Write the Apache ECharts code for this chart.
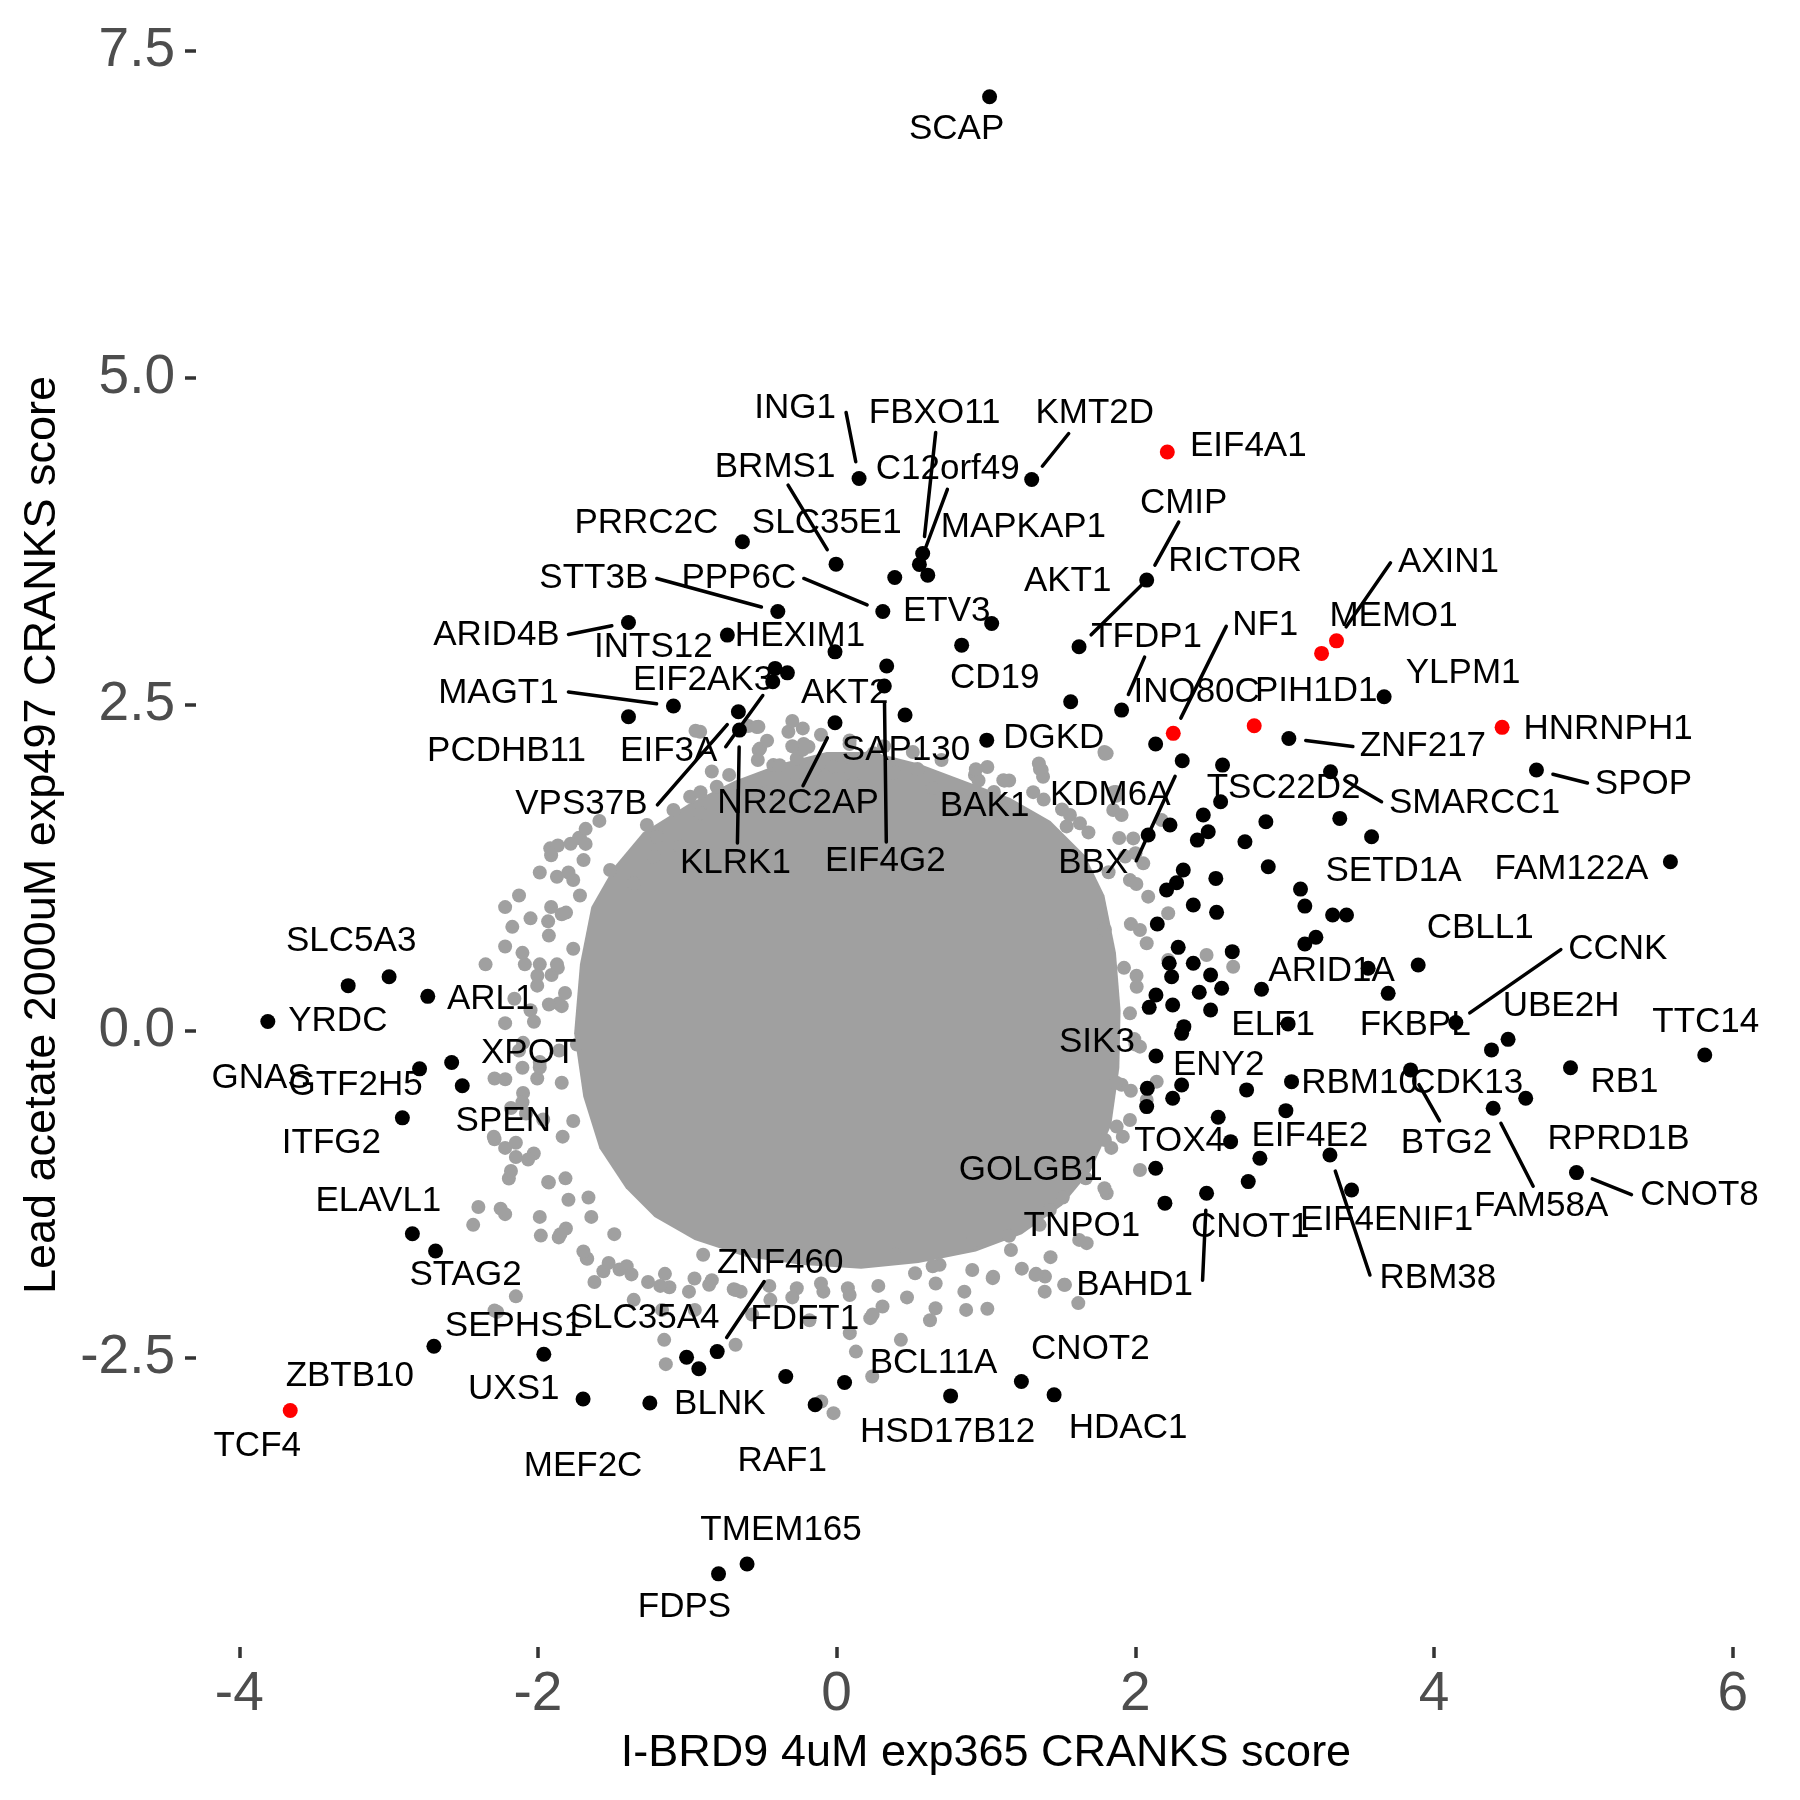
<!DOCTYPE html>
<html><head><meta charset="utf-8">
<script src="https://cdn.jsdelivr.net/npm/echarts@6/dist/echarts.min.js"></script>
<style>html,body{margin:0;padding:0;background:#fff}#c{width:1800px;height:1800px}</style>
</head><body><div id="c"></div>
<script>
// ---------------- DATA ----------------
const xTicks = [-4, -2, 0, 2, 4, 6];
const yTicks = [-2.5, 0, 2.5, 5, 7.5];

const hitGenes = ['SCAP','ING1','KMT2D','EIF4A1','PRRC2C','FBXO11','MAPKAP1','BRMS1','C12orf49','SLC35E1',
'CMIP','STT3B','PPP6C','ETV3','ARID4B','INTS12','HEXIM1','CD19','RICTOR','AKT2',
'EIF2AK3','','EIF3A','EIF4G2','MAGT1','PCDHB11','VPS37B','KLRK1','NR2C2AP','SAP130',
'DGKD','AKT1','TFDP1','NF1','PIH1D1','AXIN1','MEMO1','ZNF217','INO80C','YLPM1',
'HNRNPH1','BBX','TSC22D2','SMARCC1','SPOP','BAK1','','','','',
'','','','KDM6A','SETD1A','FAM122A','','','','',
'','','','','','','','','','',
'','','','','','','','CBLL1','','ARID1A',
'','','FKBPL','','','','ELF1','CCNK','','',
'SIK3','UBE2H','RPRD1B','BTG2','ENY2','','RBM10','','','',
'CDK13','FAM58A','EIF4E2','','TOX4','RBM38','','GOLGB1','CNOT1','EIF4ENIF1',
'BAHD1','TNPO1','RB1','TTC14','CNOT8','SLC5A3','GNAS','ARL1','YRDC','GTF2H5',
'XPOT','SPEN','ITFG2','ELAVL1','STAG2','SEPHS1','UXS1','TCF4','MEF2C','BLNK',
'SLC35A4','ZBTB10','ZNF460','FDFT1','BCL11A','RAF1','HSD17B12','CNOT2','HDAC1','TMEM165','FDPS'];

const hitX = [1.024,0.150,1.306,2.214,-0.631,0.576,0.554,-0.004,0.610,0.389,
2.076,-0.394,0.309,1.038,-1.394,-0.732,-0.011,0.837,1.623,0.335,
-0.412,-0.330,-0.428,0.319,-1.093,-1.394,-0.658,-0.651,-0.011,0.458,
1.005,1.567,1.908,2.254,2.796,3.347,3.247,3.028,2.136,3.666,
4.456,2.314,2.584,3.307,4.686,2.571,2.455,2.874,3.369,2.232,
2.488,2.415,2.734,2.086,3.582,5.583,2.890,2.321,2.539,3.106,
2.276,2.209,3.135,2.388,2.544,3.321,3.414,2.147,3.209,3.135,
2.287,2.649,2.388,2.227,2.504,2.243,3.559,3.894,2.578,2.845,
2.428,2.138,3.693,2.250,2.093,2.504,3.023,4.146,2.325,2.310,
2.138,4.496,4.385,3.843,2.310,2.080,3.046,2.745,2.250,2.076,
4.614,4.396,3.008,2.555,2.638,3.303,2.834,2.136,2.756,3.448,
2.477,2.198,4.914,5.813,4.954,-3.271,-2.997,-2.738,-3.809,-2.793,
-2.578,-2.507,-2.908,-2.841,-2.686,-2.697,-1.961,-3.659,-1.698,-1.251,
-1.005,-0.923,-0.800,-0.341,0.053,-0.144,0.763,1.237,1.456,-0.600,-0.791];

const hitY = [7.151,4.229,4.221,4.432,3.744,3.655,3.571,3.573,3.489,3.471,
3.451,3.211,3.211,3.119,3.127,3.030,2.902,2.953,2.941,2.793,
2.775,2.741,2.673,2.640,2.487,2.405,2.443,2.303,2.359,2.418,
2.226,2.520,2.456,2.278,2.336,2.986,2.890,2.239,2.196,2.558,
2.324,2.068,2.035,1.984,1.997,1.754,1.653,1.601,1.627,1.576,
1.525,1.461,1.448,1.500,1.487,1.295,1.257,1.232,1.168,1.086,
1.135,1.079,0.956,0.964,0.908,0.888,0.888,0.819,0.717,0.666,
0.640,0.607,0.518,0.518,0.428,0.415,0.480,0.505,0.327,0.319,
0.296,0.275,0.288,0.199,0.181,0.161,0.054,0.064,0.033,-0.018,
-0.191,-0.064,-0.145,-0.298,-0.413,-0.439,-0.388,-0.451,-0.515,-0.579,
-0.515,-0.591,-0.610,-0.660,-0.847,-0.949,-0.974,-1.051,-1.153,-1.217,
-1.242,-1.318,-0.281,-0.184,-1.084,0.347,0.415,0.265,0.073,-0.290,
-0.241,-0.419,-0.665,-1.552,-1.684,-2.413,-2.474,-2.905,-2.817,-2.847,
-2.497,-2.585,-2.454,-2.645,-2.691,-2.861,-2.793,-2.683,-2.785,-4.080,-4.155];

const redGenes = ['EIF4A1','NF1','PIH1D1','AXIN1','MEMO1','HNRNPH1','TCF4'];

// outline of the solid central mass of background genes
const coreOutline = [[-1.719,0.510],[-1.643,0.949],[-1.489,1.257],[-1.297,1.520],[-0.989,1.740],[-0.682,1.916],
[-0.374,2.047],[-0.067,2.135],[0.241,2.135],[0.548,2.047],[0.855,1.916],[1.163,1.784],[1.432,1.608],
[1.662,1.345],[1.793,1.037],[1.870,0.598],[1.901,0.159],[1.893,-0.281],[1.839,-0.720],[1.701,-1.072],
[1.509,-1.335],[1.240,-1.555],[0.932,-1.687],[0.548,-1.775],[0.164,-1.819],[-0.221,-1.792],[-0.605,-1.730],
[-0.951,-1.599],[-1.220,-1.423],[-1.412,-1.204],[-1.589,-0.897],[-1.697,-0.502],[-1.758,-0.018]];

// individual background genes around the mass
const grayPoints = [[-0.914,2.290],[-0.591,2.334],[-0.524,2.328],[-0.323,2.290],[-0.227,2.316],[-0.513,2.163],
[-0.189,2.175],[-0.424,2.035],[-0.267,2.086],[-0.033,2.022],[0.246,2.125],[-0.981,1.793],[-0.803,1.869],
[-0.491,1.920],[-0.156,1.984],[0.112,1.895],[-1.093,1.691],[-1.271,1.576],[-1.204,1.487],[-0.914,1.666],
[-1.918,1.398],[-1.718,1.474],[-1.873,1.181],[-1.695,1.308],[-1.517,1.232],[-1.227,1.334],[-1.048,1.410],
[-1.361,1.130],[0.926,1.959],[1.116,1.920],[1.373,1.997],[1.808,2.125],[1.562,1.653],[1.629,1.589],
[1.852,1.691],[1.908,1.653],[2.176,1.614],[1.986,1.474],[2.053,1.283],[1.964,1.155],[1.382,1.946],
[2.086,1.028],[2.220,0.901],[2.031,0.773],[2.076,0.671],[2.220,0.543],[2.477,0.581],[2.655,0.492],
[2.009,0.339],[1.964,0.135],[2.031,-0.120],[2.143,-0.388],[2.076,-0.528],[1.964,-0.681],[1.875,-0.732],
[2.031,-1.064],[1.808,-1.242],[1.674,-1.624],[1.529,-1.943],[1.618,-2.083],[1.395,-1.880],
[-2.220,0.948],[-1.932,0.839],[-2.172,0.797],[-2.351,0.510],[-2.220,0.647],[-2.088,0.510],[-1.909,0.428],
[-2.005,0.347],[-1.861,0.210],[-2.220,0.060],[-2.100,-0.091],[-2.291,-0.364],[-2.005,-0.364],[-2.100,-0.474],
[-2.291,-0.829],[-2.148,-0.856],[-2.148,-0.965],[-2.028,-0.938],[-2.195,-1.129],[-1.932,-1.156],[-2.399,-1.347],
[-2.434,-1.484],[-2.220,-1.402],[-1.981,-1.566],[-1.861,-1.580],[-1.813,-1.512],[-1.670,-1.744],[-1.562,-1.839],
[-1.454,-1.826],[-2.148,-2.031],[-2.291,-2.140],[-1.263,-1.921],[-1.120,-1.962],[-0.952,-1.894],[-1.144,-2.550],
[-1.622,-1.921],[-1.674,-1.739],[-0.854,-1.943],[-1.359,-2.058],[-1.169,-2.135],[-0.950,-2.135],[-0.677,-1.982],
[-0.444,-2.058],[-0.267,-1.969],[-0.089,-1.995],[0.075,-1.969],[0.225,-2.198],[0.307,-2.109],[0.430,-2.364],
[0.662,-2.122],[0.867,-2.135],[0.088,-2.313],[0.129,-2.454],[0.238,-2.645],[-0.103,-2.836],[-0.021,-2.925],
[-0.677,-2.402],[-1.155,-2.364],[1.045,-1.892],[1.167,-1.676],[1.331,-1.867],[1.523,-1.943],[0.908,-1.829],
[0.689,-1.790],[0.525,-1.854],[1.359,-1.484],[1.427,-1.370],[-2.273,-2.150],[-2.250,-1.360],[-2.220,-0.895],
[-2.080,-0.632],[-1.988,-0.280],[1.869,1.829],[1.892,1.477],[2.007,1.125],[1.839,-0.895],[1.908,-0.412],
[0.086,2.197],[2.001,1.361],
[-0.945,2.298],[-0.535,2.327],[-0.522,2.150],[-0.382,2.034],[-0.228,2.152],[-0.151,2.005],[-0.279,1.888],
[-0.074,1.947],[0.029,2.020],[0.387,1.976],[0.541,2.005],[0.643,1.859],[0.950,1.917],[1.053,1.830],
[1.155,1.917],[1.361,2.005],[1.386,1.771],[1.540,1.566],[1.796,2.122],[1.873,1.800],[1.821,1.215],
[-1.867,1.420],[-1.726,1.478],[-1.764,1.156],[-1.841,0.893],[-1.867,0.483],[-1.764,0.629],[-1.841,0.190],
[-1.739,-0.103],[-1.841,-0.396],[-1.764,-0.689],[-1.816,-1.128],[-1.662,-1.274],
[1.796,0.776],[1.924,0.483],[2.001,-0.103],[1.873,-0.396],[1.796,-0.835],[1.668,-1.128],[1.514,-1.274],
[-1.406,-1.801],[-1.150,-1.859],[-0.894,-1.713],[-0.689,-1.977],[0.387,-1.713],[0.643,-1.801],[0.900,-1.625],
[1.155,-1.567],[1.335,-1.859],
[-0.297,2.372],[-0.221,2.196],[-0.466,2.222],[0.217,2.091],[-0.836,1.986],[1.009,2.021],[1.354,2.047],
[1.793,2.135],[1.855,1.828],
[-2.181,-0.589],[-2.104,-0.282],[-2.050,0.159],[-1.988,0.510],[-1.912,0.949],[-1.796,1.213],[-1.681,1.432],
[-2.127,1.037],[-1.988,1.213],[-1.912,1.345],[-1.781,1.433],[-1.681,1.547],[-1.589,1.608],[-2.050,0.862],
[-1.927,0.730],[-1.812,0.906],[-1.719,1.037],[-2.104,0.598],[-2.004,0.423],[-1.873,0.510],[-2.158,0.247],
[-2.027,0.071],[-1.927,0.203],[-1.819,0.291],[-2.127,-0.150],[-1.988,-0.238],[-1.858,-0.150],[-2.104,-0.545],
[-1.965,-0.677],[-1.835,-0.809],[-2.066,-0.984],[-1.927,-1.160],[-1.796,-1.292],[-1.643,-1.423],[-1.489,-1.555],
[-1.988,-1.423],[-1.850,-1.555],[-1.696,-1.687],[-1.527,-1.775],[-1.374,-1.863],[-1.181,-1.951],[-0.989,-1.995],
[-2.219,-0.369],[-2.181,-1.072],[-2.296,-0.809],
[-0.836,-1.907],[-0.643,-1.995],[-0.451,-1.951],[-0.297,-2.039],[-0.105,-1.933],[0.087,-2.021],[0.279,-1.951],
[0.471,-2.039],[0.663,-1.933],[0.855,-1.995],[1.048,-1.881],[1.240,-1.819],[1.432,-1.731],[1.624,-1.599],
[-0.566,-2.170],[-0.182,-2.214],[0.241,-2.170],[0.625,-2.214],[1.009,-2.126],[1.393,-1.995],
[1.932,1.336],[1.970,0.818],[2.008,0.423],[1.993,-0.062],[1.970,-0.458],[1.916,-0.809],[1.793,-1.204],
[-0.912,1.827],[-0.720,1.960],[-0.528,2.074],[-0.297,2.179],[-0.105,2.267],[0.087,2.223],[0.317,2.179],
[0.510,2.135],[0.702,2.074],[0.932,2.003],[1.124,1.916],[1.316,1.828],[1.509,1.696],[1.686,1.520]];

// ---------------- LAYOUT ----------------
// [dx, dy, drawSegment, ax, ay]: label centre offset (px) from its point; segment start offset (px) from label centre
const labelOffsets = {
SCAP:[-33,33,0], ING1:[-64,-70,1,51,4], KMT2D:[63,-66,1,-26,20], EIF4A1:[81,-6,0], PRRC2C:[-96,-18,0],
FBXO11:[12,-140,1,1,19], MAPKAP1:[104,-37,1,-76,-38], BRMS1:[-61,-97,1,13,18], C12orf49:[20,-106,0], SLC35E1:[-68,-54,0],
CMIP:[37,-77,1,-5,19], STT3B:[-184,-33,1,63,0], PPP6C:[-144,-33,1,65,0], ETV3:[-45,-12,0], ARID4B:[-132,13,1,72,-1],
INTS12:[-74,12,0], HEXIM1:[-35,-15,0], CD19:[33,33,0], RICTOR:[156,-85,1,-85,15], AKT2:[-42,27,0],
EIF2AK3:[-72,12,0], EIF3A:[-104,70,1,57,-5], EIF4G2:[1,175,1,1,-19], MAGT1:[-175,-13,1,70,-1], PCDHB11:[-122,35,0],
VPS37B:[-157,93,1,76,0], KLRK1:[-4,133,1,2,-20], NR2C2AP:[-37,81,1,5,-18], SAP130:[1,35,0], DGKD:[67,-2,0],
AKT1:[-3,-120,0], TFDP1:[25,-73,1,-2,20], NF1:[92,-108,1,-39,1], PIH1D1:[62,-34,0], AXIN1:[112,-79,1,-58,1],
MEMO1:[72,-37,0], ZNF217:[134,8,1,-70,0], INO80C:[41,-52,0], YLPM1:[79,-23,0], HNRNPH1:[106,2,0],
BBX:[-89,103,1,43,-3], TSC22D2:[61,23,0], SMARCC1:[144,32,1,-93,-2], SPOP:[107,14,1,-56,-1], BAK1:[-236,5,0],
KDM6A:[-38,-40,0], SETD1A:[22,35,0], FAM122A:[-99,8,0], CBLL1:[62,-37,0], ARID1A:[70,-18,0],
FKBPL:[27,32,0], ELF1:[-15,1,0], CCNK:[162,-73,1,-57,0], SIK3:[-59,-14,0], UBE2H:[53,-33,0],
RPRD1B:[127,89,0], BTG2:[36,73,1,-7,-22], ENY2:[37,-20,0], RBM10:[68,2,0], CDK13:[-59,-15,0],
FAM58A:[48,98,1,-8,-20], EIF4E2:[24,26,0], TOX4:[-51,0,0], RBM38:[108,123,1,-68,-3], GOLGB1:[-125,2,0],
CNOT1:[2,46,0], EIF4ENIF1:[35,30,0], BAHD1:[-72,92,1,68,-5], TNPO1:[-83,23,0], RB1:[54,15,0],
TTC14:[1,-33,0], CNOT8:[123,23,1,-68,-1], SLC5A3:[3,-44,0], GNAS:[-128,102,0], ARL1:[63,3,0],
YRDC:[70,0,0], GTF2H5:[-64,16,0], XPOT:[77,-9,0], SPEN:[41,36,0], ITFG2:[-71,25,0],
ELAVL1:[-34,-32,0], STAG2:[30,24,0], SEPHS1:[80,-20,0], UXS1:[-30,35,0], TCF4:[-33,36,0],
MEF2C:[0,67,0], BLNK:[70,1,0], SLC35A4:[-42,-39,0], ZBTB10:[-349,8,0], ZNF460:[63,-88,1,-16,18],
FDFT1:[19,-57,0], BCL11A:[89,-19,0], RAF1:[-33,57,0], HSD17B12:[-3,36,0], CNOT2:[69,-32,0],
HDAC1:[74,34,0], TMEM165:[34,-34,0], FDPS:[-34,34,0]
};

const GRAY = '#A0A0A0';
const FONT = "'Liberation Sans', Arial, Helvetica, sans-serif";
const LABEL_SIZE = 35;

const hitData = hitX.map((x, i) => {
  const g = hitGenes[i];
  return {
    name: g,
    value: [x, hitY[i]],
    itemStyle: { color: redGenes.indexOf(g) >= 0 ? '#FF0000' : '#000000' },
    label: { show: !!g }
  };
});

const segData = [];
hitGenes.forEach((g, i) => {
  const o = labelOffsets[g];
  if (o && o[2]) segData.push([hitX[i], hitY[i], i]);
});

const chart = echarts.init(document.getElementById('c'), null, { renderer: 'canvas' });
chart.setOption({
  animation: false,
  backgroundColor: '#ffffff',
  grid: { left: 196, top: 23, width: 1580, height: 1624, containLabel: false },
  xAxis: {
    type: 'value', min: -4.29, max: 6.29,
    axisLine: { show: false, onZero: false },
    splitLine: { show: false },
    axisTick: { show: true, customValues: xTicks, length: 11, lineStyle: { color: '#333333', width: 3.5 } },
    axisLabel: { customValues: xTicks, fontSize: 55, color: '#4D4D4D', margin: 20, fontFamily: FONT },
    name: 'I-BRD9 4uM exp365 CRANKS score', nameLocation: 'middle', nameGap: 84,
    nameTextStyle: { fontSize: 45, color: '#000', fontFamily: FONT }
  },
  yAxis: {
    type: 'value', min: -4.715, max: 7.715,
    axisLine: { show: false, onZero: false },
    splitLine: { show: false },
    axisTick: { show: true, customValues: yTicks, length: 11, lineStyle: { color: '#333333', width: 3.5 } },
    axisLabel: { customValues: yTicks, fontSize: 55, color: '#4D4D4D', margin: 21, fontFamily: FONT,
      formatter: v => Number(v).toFixed(1) },
    name: 'Lead acetate 2000uM exp497 CRANKS score', nameLocation: 'middle', nameGap: 131,
    nameTextStyle: { fontSize: 45, color: '#000', fontFamily: FONT }
  },
  series: [
    {
      type: 'custom', silent: true, z: 1, clip: false,
      data: coreOutline,
      renderItem: function (params, api) {
        if (params.dataIndex !== 0) return null;
        return { type: 'polygon', shape: { points: coreOutline.map(p => api.coord(p)) }, style: { fill: GRAY } };
      }
    },
    {
      type: 'scatter', silent: true, z: 2,
      symbolSize: 14, itemStyle: { color: GRAY, opacity: 1 },
      data: grayPoints
    },
    {
      // repel-style segments from label box to its point
      type: 'custom', silent: true, z: 4, clip: false,
      data: segData,
      renderItem: function (params, api) {
        const i = api.value(2);
        const o = labelOffsets[hitGenes[i]];
        const p = api.coord([api.value(0), api.value(1)]);
        const sx = p[0] + o[0] + o[3], sy = p[1] + o[1] + o[4];
        const dx = p[0] - sx, dy = p[1] - sy;
        const L = Math.hypot(dx, dy);
        const ex = p[0] - dx / L * 17, ey = p[1] - dy / L * 17;
        return { type: 'line', shape: { x1: sx, y1: sy, x2: ex, y2: ey },
          style: { stroke: '#000', lineWidth: 3.5, lineCap: 'round' } };
      }
    },
    {
      type: 'scatter', z: 3, silent: true,
      symbolSize: 15,
      itemStyle: { opacity: 1 },
      data: hitData,
      label: { show: true, position: 'inside', formatter: p => p.name, fontSize: LABEL_SIZE, color: '#000',
        fontFamily: FONT },
      labelLayout: function (params) {
        const g = hitGenes[params.dataIndex];
        const o = labelOffsets[g];
        if (!o) return {};
        const r = params.rect;
        return { x: r.x + r.width / 2 + o[0], y: r.y + r.height / 2 + o[1], align: 'center', verticalAlign: 'middle' };
      },
      emphasis: { disabled: true }
    }
  ]
});
</script>
</body></html>
